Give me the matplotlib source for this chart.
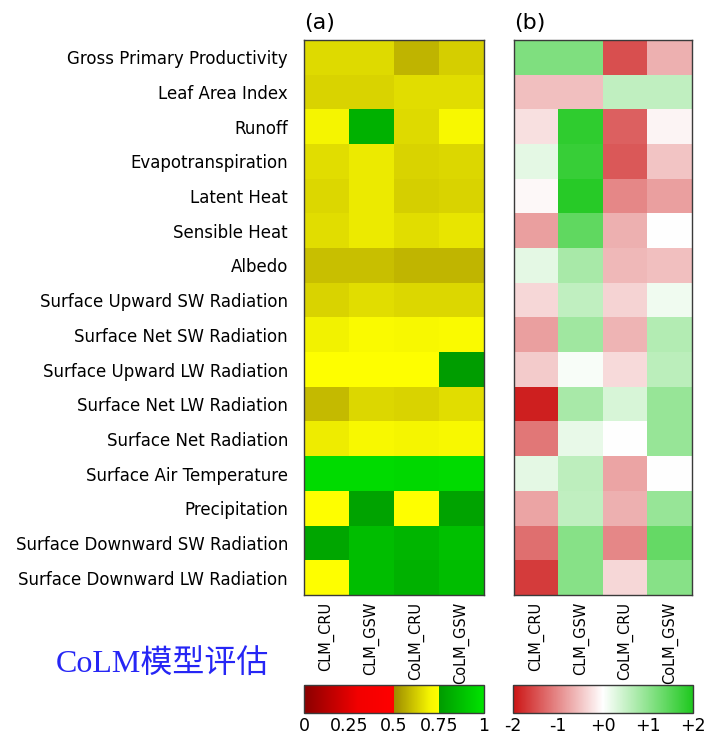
import numpy as np
import matplotlib
matplotlib.use("Agg")
import matplotlib.pyplot as plt
from matplotlib.colors import LinearSegmentedColormap, Normalize

variables = [
    "Gross Primary Productivity", "Leaf Area Index", "Runoff", "Evapotranspiration",
    "Latent Heat", "Sensible Heat", "Albedo", "Surface Upward SW Radiation",
    "Surface Net SW Radiation", "Surface Upward LW Radiation", "Surface Net LW Radiation",
    "Surface Net Radiation", "Surface Air Temperature", "Precipitation",
    "Surface Downward SW Radiation", "Surface Downward LW Radiation",
]
runs = ["CLM_CRU", "CLM_GSW", "CoLM_CRU", "CoLM_GSW"]

# Overall scores (0-1)
scores = np.array([
    [0.650, 0.650, 0.580, 0.628],
    [0.637, 0.637, 0.655, 0.655],
    [0.705, 0.830, 0.650, 0.715],
    [0.655, 0.680, 0.638, 0.645],
    [0.645, 0.680, 0.630, 0.638],
    [0.655, 0.680, 0.655, 0.670],
    [0.600, 0.600, 0.582, 0.582],
    [0.638, 0.655, 0.645, 0.645],
    [0.695, 0.725, 0.715, 0.725],
    [0.749, 0.745, 0.749, 0.760],
    [0.590, 0.645, 0.637, 0.655],
    [0.685, 0.715, 0.705, 0.715],
    [0.970, 0.970, 0.960, 0.970],
    [0.749, 0.780, 0.748, 0.780],
    [0.790, 0.870, 0.840, 0.880],
    [0.748, 0.870, 0.830, 0.870],
])

# Relative scores (-2 to +2)
relative = np.array([
    [ 1.13,  1.13, -1.49, -0.67],
    [-0.54, -0.54,  0.56,  0.56],
    [-0.26,  1.84, -1.35, -0.09],
    [ 0.24,  1.77, -1.42, -0.50],
    [-0.06,  1.91, -1.01, -0.81],
    [-0.81,  1.41, -0.67,  0.00],
    [ 0.24,  0.77, -0.60, -0.54],
    [-0.33,  0.56, -0.37,  0.13],
    [-0.81,  0.84, -0.64,  0.67],
    [-0.43,  0.06, -0.31,  0.60],
    [-1.90,  0.77,  0.35,  0.92],
    [-1.15,  0.20,  0.00,  0.92],
    [ 0.24,  0.58, -0.77,  0.00],
    [-0.77,  0.56, -0.67,  0.92],
    [-1.22,  1.06, -1.01,  1.36],
    [-1.66,  1.06, -0.33,  1.06],
])

score_ticks = [0, 0.25, 0.5, 0.75, 1]
score_ticklabels = ["0", "0.25", "0.5", "0.75", "1"]
rel_ticks = [-2, -1, 0, 1, 2]
rel_ticklabels = ["-2", "-1", "+0", "+1", "+2"]

# Banded colormap: red below 0.5, olive->yellow to 0.75, green above
score_cmap = LinearSegmentedColormap.from_list("score", [
    (0.0, "#8a0000"), (0.30, "#f20000"), (0.4999, "#ff0000"),
    (0.5, "#9c8a00"), (0.70, "#f5f500"), (0.7499, "#ffff00"),
    (0.75, "#009a00"), (1.0, "#00e400"),
], N=512)
rel_cmap = LinearSegmentedColormap.from_list("rel", [
    (0.0, "#cc1414"), (0.5, "#ffffff"), (1.0, "#1ec81e"),
], N=512)

W, H = 711, 734
fig = plt.figure(figsize=(W / 100, H / 100), dpi=100)


def px_axes(x0, y0, x1, y1):
    return fig.add_axes([x0 / W, 1 - y1 / H, (x1 - x0) / W, (y1 - y0) / H])


ax_a = px_axes(304, 40, 484, 595)
ax_b = px_axes(514, 40, 692, 595)
cax_a = px_axes(304, 685, 484, 713)
cax_b = px_axes(513, 685, 693, 713)

frame_color = "#3a3a3a"
norm_a = Normalize(0, 1)
norm_b = Normalize(-2, 2)
ax_a.imshow(scores, cmap=score_cmap, norm=norm_a, aspect="auto", interpolation="nearest")
ax_b.imshow(relative, cmap=rel_cmap, norm=norm_b, aspect="auto", interpolation="nearest")

for ax, label in [(ax_a, "(a)"), (ax_b, "(b)")]:
    ax.set_xticks(range(len(runs)))
    ax.set_xticklabels(runs, rotation=90, fontsize=10.5)
    ax.set_yticks(range(len(variables)))
    ax.tick_params(length=0)
    ax.tick_params(axis="x", pad=5)
    for s in ax.spines.values():
        s.set_color(frame_color)
        s.set_linewidth(1.0)
    ax.text(0.0, 1.012, label, transform=ax.transAxes, ha="left", va="bottom", fontsize=16)

ax_a.set_yticklabels(variables, fontsize=12)
ax_a.tick_params(axis="y", pad=11.5)
ax_b.set_yticklabels([])

for cax, cmap, norm, ticks, labels in [
    (cax_a, score_cmap, norm_a, score_ticks, score_ticklabels),
    (cax_b, rel_cmap, norm_b, rel_ticks, rel_ticklabels),
]:
    cb = fig.colorbar(plt.cm.ScalarMappable(norm=norm, cmap=cmap), cax=cax, orientation="horizontal")
    cb.set_ticks(ticks)
    cb.set_ticklabels(labels)
    cax.tick_params(length=0, pad=3, labelsize=12.5)
    cb.outline.set_edgecolor(frame_color)
    cb.outline.set_linewidth(1.0)

fig.text(162 / W, 1 - 664 / H, "CoLM模型评估", ha="center", va="center",
         fontsize=23, color="#2626f5",
         family=["Liberation Serif", "Noto Sans CJK SC"])

fig.savefig("out.png", dpi=100)
